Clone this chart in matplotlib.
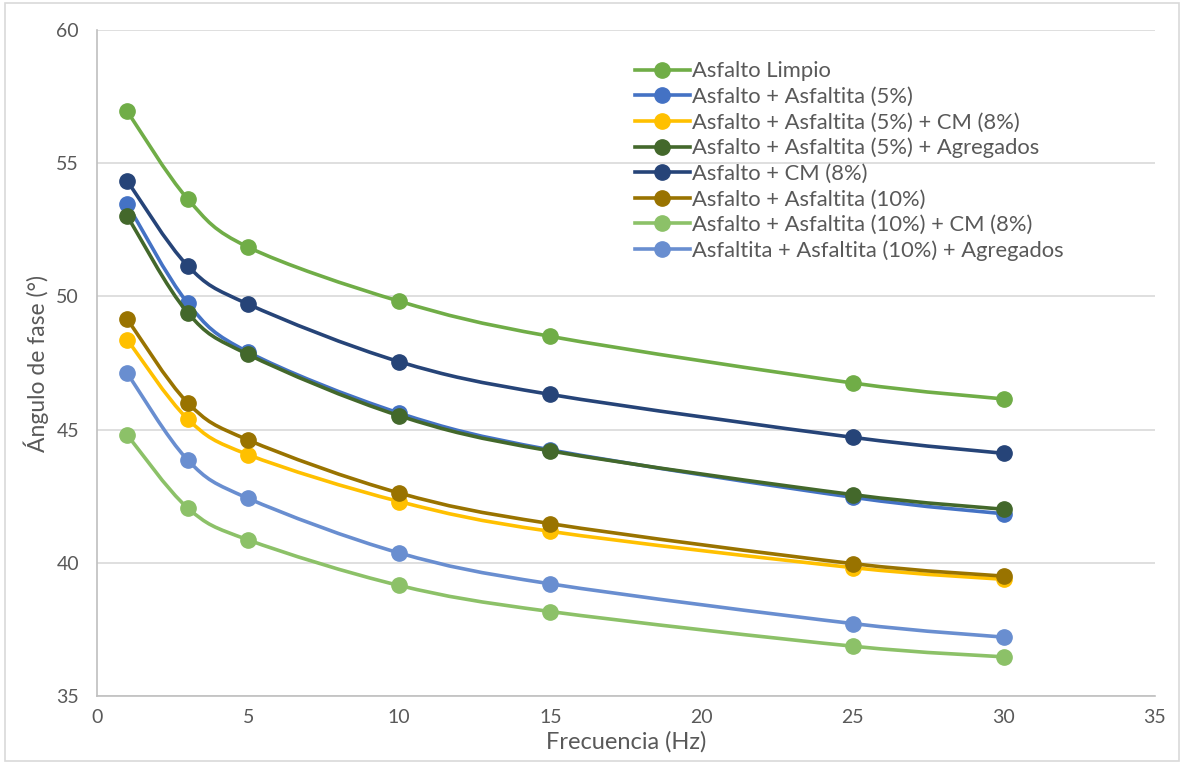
import numpy as np
import matplotlib.pyplot as plt
from matplotlib.path import Path
from matplotlib.patches import PathPatch, Rectangle

plt.rcParams['font.family'] = ['Lato', 'DejaVu Sans']

# Frecuencia (Hz)
freq = [1, 3, 5, 10, 15, 25, 30]

# Ángulo de fase (°) por mezcla
limpio = [56.95, 53.66, 51.85, 49.82, 48.50, 46.75, 46.15]
asf5 = [53.47, 49.75, 47.91, 45.62, 44.24, 42.46, 41.84]
asf5_cm = [48.38, 45.40, 44.06, 42.30, 41.18, 39.82, 39.38]
asf5_agr = [53.02, 49.39, 47.82, 45.52, 44.20, 42.56, 42.01]
cm8 = [54.34, 51.15, 49.71, 47.55, 46.32, 44.71, 44.11]
asf10 = [49.15, 46.01, 44.61, 42.62, 41.47, 39.97, 39.50]
asf10_cm = [44.80, 42.06, 40.86, 39.15, 38.17, 36.87, 36.47]
asf10_agr = [47.12, 43.86, 42.42, 40.37, 39.21, 37.72, 37.21]

series = [
    ('Asfalto Limpio', limpio, '#70AD47'),
    ('Asfalto + Asfaltita (5%)', asf5, '#4472C4'),
    ('Asfalto + Asfaltita (5%) + CM (8%)', asf5_cm, '#FFC000'),
    ('Asfalto + Asfaltita (5%) + Agregados', asf5_agr, '#43682B'),
    ('Asfalto + CM (8%)', cm8, '#264478'),
    ('Asfalto + Asfaltita (10%)', asf10, '#997300'),
    ('Asfalto + Asfaltita (10%) + CM (8%)', asf10_cm, '#8CC168'),
    ('Asfaltita + Asfaltita (10%) + Agregados', asf10_agr, '#698ED0'),
]


def smooth_path(x, y):
    # bezier como las lineas suavizadas de Excel
    x = np.asarray(x, float)
    y = np.asarray(y, float)
    n = len(x)
    verts = [(x[0], y[0])]
    codes = [Path.MOVETO]
    for i in range(n - 1):
        p0 = i - 1 if i > 0 else i
        p3 = i + 2 if i + 2 < n else i + 1
        c1 = (x[i] + (x[i + 1] - x[p0]) / 6, y[i] + (y[i + 1] - y[p0]) / 6)
        c2 = (x[i + 1] - (x[p3] - x[i]) / 6, y[i + 1] - (y[p3] - y[i]) / 6)
        verts += [c1, c2, (x[i + 1], y[i + 1])]
        codes += [Path.CURVE4] * 3
    return Path(verts, codes)


fig = plt.figure(figsize=(11.84, 7.64), dpi=100)
ax = fig.add_axes([0.0819, 0.089, 0.8936, 0.8717])

handles = []
for k, (name, vals, col) in enumerate(series):
    ax.add_patch(PathPatch(smooth_path(freq, vals), facecolor='none', edgecolor=col,
                           lw=2.6, zorder=3 + k, capstyle='round'))
    ax.plot(freq, vals, 'o', color=col, ms=11, zorder=3 + k, ls='none')
    handles.append(ax.plot([], [], '-o', color=col, ms=11, lw=2.6)[0])

ax.set_xlim(0, 35)
ax.set_ylim(35, 60)
ax.set_xticks(np.arange(0, 36, 5))
ax.set_yticks(np.arange(35, 61, 5))
ax.grid(axis='y', color='#D9D9D9', lw=1.2)
ax.set_axisbelow(True)
for s in ['top', 'right']:
    ax.spines[s].set_visible(False)
for s in ['left', 'bottom']:
    ax.spines[s].set_color('#BFBFBF')
    ax.spines[s].set_linewidth(1.2)
ax.tick_params(length=0, labelsize=14, colors='#595959')
ax.tick_params(axis='x', pad=9)
ax.tick_params(axis='y', pad=13)

ax.set_xlabel('Frecuencia (Hz)', fontsize=17, color='#595959', labelpad=4)
ax.set_ylabel('Ángulo de fase (°)', fontsize=16.5, color='#595959', labelpad=5)

ax.legend(handles, [s[0] for s in series], loc='upper left', bbox_to_anchor=(0.5, 0.966),
          frameon=False, fontsize=15.8, labelcolor='#595959', handlelength=2.5,
          handletextpad=0.1, labelspacing=0.25, borderaxespad=0)

fig.patches.append(Rectangle((0.004, 0.004), 0.992, 0.992, transform=fig.transFigure,
                             fill=False, edgecolor='#D9D9D9', lw=1.2))

fig.savefig('out.png', dpi=100)
